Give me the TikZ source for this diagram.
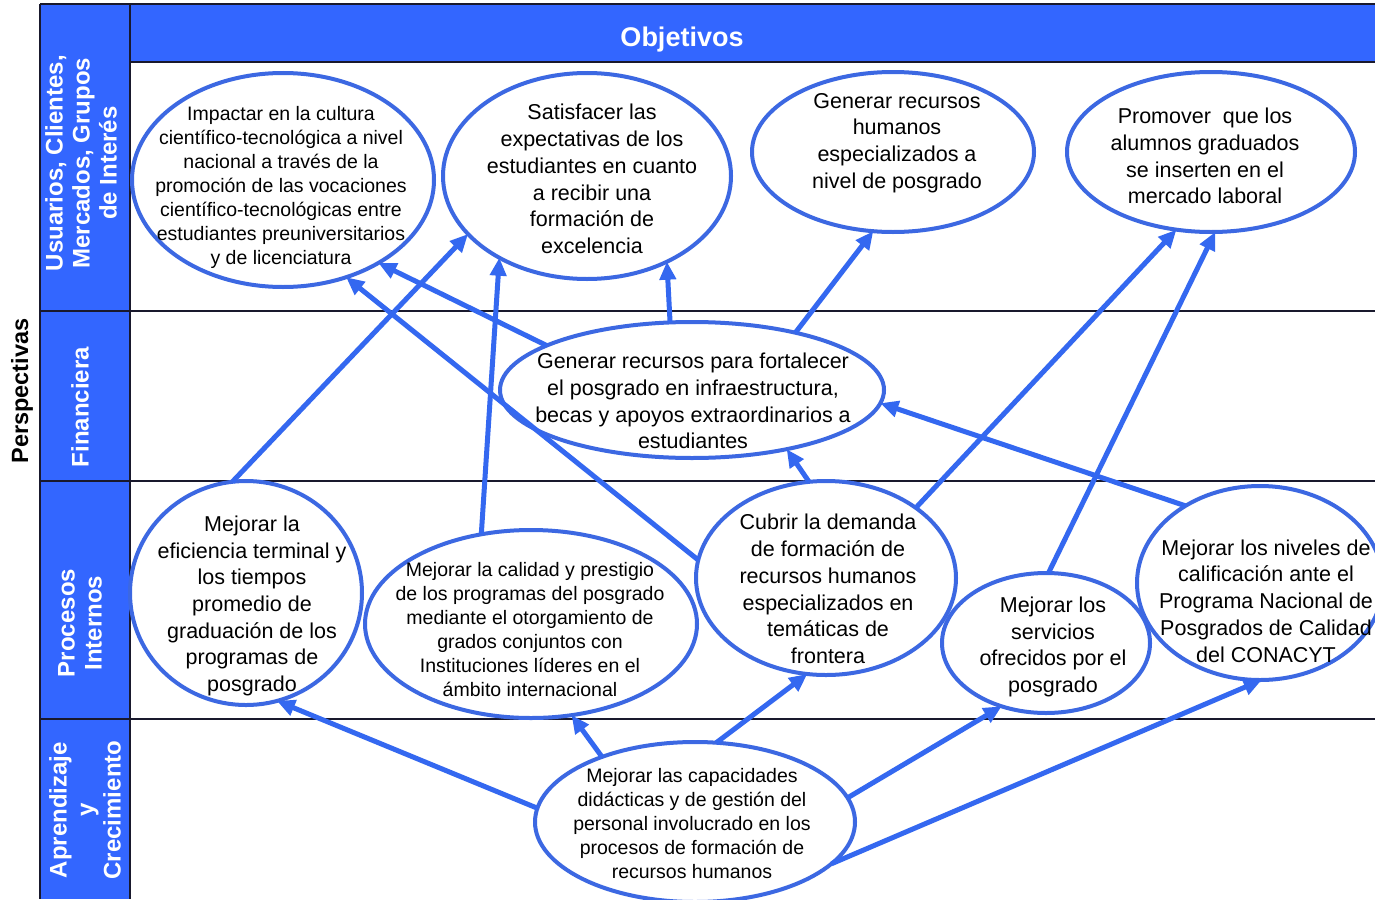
\documentclass[tikz,border=0pt]{standalone}
\usepackage{fontspec}
\setmainfont{Liberation Sans}
\usetikzlibrary{shapes.geometric,arrows.meta}
\definecolor{bandblue}{RGB}{51,102,255}
\definecolor{ringblue}{RGB}{60,104,226}
\definecolor{arrowblue}{RGB}{52,104,240}
\definecolor{rulecol}{RGB}{25,25,45}

\begin{document}
\begin{tikzpicture}[x=1pt,y=-1pt,
  goal/.style={ellipse, draw=ringblue, line width=4pt, inner sep=0pt, outer sep=0pt},
  bigtxt/.style={align=center, font=\fontsize{21.5}{26.7}\selectfont, inner sep=0pt},
  smalltxt/.style={align=center, font=\fontsize{19.5}{24}\selectfont, inner sep=0pt},
  link/.style={draw=arrowblue, line width=5pt, -{Triangle[length=18pt,width=16pt]}},
  lanetxt/.style={white, font=\bfseries\fontsize{24}{27}\selectfont, align=center, rotate=90, inner sep=0pt},
  gridline/.style={draw=rulecol, line width=1.5pt}
]
\useasboundingbox (0,0) rectangle (1375,899);
\clip (0,0) rectangle (1375,899);
\fill[white] (0,0) rectangle (1375,899);

% header band and perspective column
\fill[bandblue] (130,4) rectangle (1375,62);
\fill[bandblue] (40,4) rectangle (130,899);

% table rules
\draw[gridline] (40,4) -- (1375,4);
\draw[gridline] (130,62) -- (1375,62);
\draw[gridline] (40,311) -- (1375,311);
\draw[gridline] (40,481) -- (1375,481);
\draw[gridline] (40,719) -- (1375,719);
\draw[gridline] (40,4) -- (40,899);
\draw[gridline] (130,4) -- (130,899);

% titles
\node[white, font=\bfseries\fontsize{27}{30}\selectfont, anchor=base] (obj) at (682,47) {Objetivos};
\node[font=\bfseries\fontsize{23.5}{26}\selectfont, rotate=90, inner sep=0pt] (persp) at (22,391) {Perspectivas};
\node[lanetxt] (lane1) at (81,163) {Usuarios, Clientes,\\Mercados, Grupos\\de Interés};
\node[lanetxt] (lane2) at (80,407) {Financiera};
\node[lanetxt] (lane3) at (80,623) {Procesos\\Internos};
\node[lanetxt] (lane4) at (85,810) {Aprendizaje\\y\\Crecimiento};

% objectives
\node[goal, minimum width=302pt, minimum height=214pt] (e1) at (283,180) {};
\node[goal, minimum width=288pt, minimum height=206pt] (e2) at (587,176) {};
\node[goal, minimum width=282pt, minimum height=160pt] (e3) at (893,152) {};
\node[goal, minimum width=288pt, minimum height=160pt] (e4) at (1211,152) {};
\node[goal, minimum width=384pt, minimum height=136pt] (e5) at (692,390) {};
\node[goal, minimum width=232pt, minimum height=224pt] (e6) at (246,593) {};
\node[goal, minimum width=332pt, minimum height=188pt] (e7) at (531,624) {};
\node[goal, minimum width=260pt, minimum height=194pt] (e8) at (826,578) {};
\node[goal, minimum width=208pt, minimum height=140pt] (e9) at (1046,643) {};
\node[goal, minimum width=246pt, minimum height=194pt] (e10) at (1260,583) {};
\node[goal, minimum width=320pt, minimum height=160pt] (e11) at (695,822) {};

\node[smalltxt] (t1) at (281,187) {Impactar en la cultura\\científico-tecnológica a nivel\\nacional a través de la\\promoción de las vocaciones\\científico-tecnológicas entre\\estudiantes preuniversitarios\\y de licenciatura};
\node[bigtxt] (t2) at (592,179) {Satisfacer las\\expectativas de los\\estudiantes en cuanto\\a recibir una\\formación de\\excelencia};
\node[bigtxt] (t3) at (897,143) {Generar recursos\\humanos\\especializados a\\nivel de posgrado};
\node[bigtxt] (t4) at (1205,156) {Promover\ \ que los\\alumnos graduados\\se inserten en el\\mercado laboral};
\node[bigtxt] (t5) at (693,401) {Generar recursos para fortalecer\\el posgrado en infraestructura,\\becas y apoyos extraordinarios a\\estudiantes};
\node[bigtxt] (t6) at (252,606) {Mejorar la\\eficiencia terminal y\\los tiempos\\promedio de\\graduación de los\\programas de\\posgrado};
\node[smalltxt] (t7) at (530,630) {Mejorar la calidad y prestigio\\de los programas del posgrado\\mediante el otorgamiento de\\grados conjuntos con\\Instituciones líderes en el\\ámbito internacional};
\node[bigtxt] (t8) at (828,589) {Cubrir la demanda\\de formación de\\recursos humanos\\especializados en\\temáticas de\\frontera};
\node[bigtxt] (t9) at (1053,647) {Mejorar los\\servicios\\ofrecidos por el\\posgrado};
\node[bigtxt] (t10) at (1266,601) {Mejorar los niveles de\\calificación ante el\\Programa Nacional de\\Posgrados de Calidad\\del CONACYT};
\node[smalltxt] (t11) at (692,824) {Mejorar las capacidades\\didácticas y de gestión del\\personal involucrado en los\\procesos de formación de\\recursos humanos};

% cause-effect links
\draw[link] (e6.97) -- (e2.206);
\draw[link] (e7.119) -- (e2.223);
\draw[link] (e5.108) -- (e2.313);
\draw[link] (e5.29) -- (e3.256);
\draw[link] (e5.163) -- (e1.319);
\draw[link] (e8.172) -- (e1.303);
\draw[link] (e8.100) -- (e5.328);
\draw[link] (e8.38) -- (e4.246);
\draw[link] (e9.88) -- (e4.273);
\draw[link] (e10.134) -- (e5.356);
\draw[link] (e11.175) -- (e6.286);
\draw[link] (e11.145) -- (e7.294);
\draw[link] (e11.75) -- (e8.259);
\draw[link] (e11.9) -- (e9.235);
\draw[link] (e11.343) -- (e10.271);
\end{tikzpicture}
\end{document}
